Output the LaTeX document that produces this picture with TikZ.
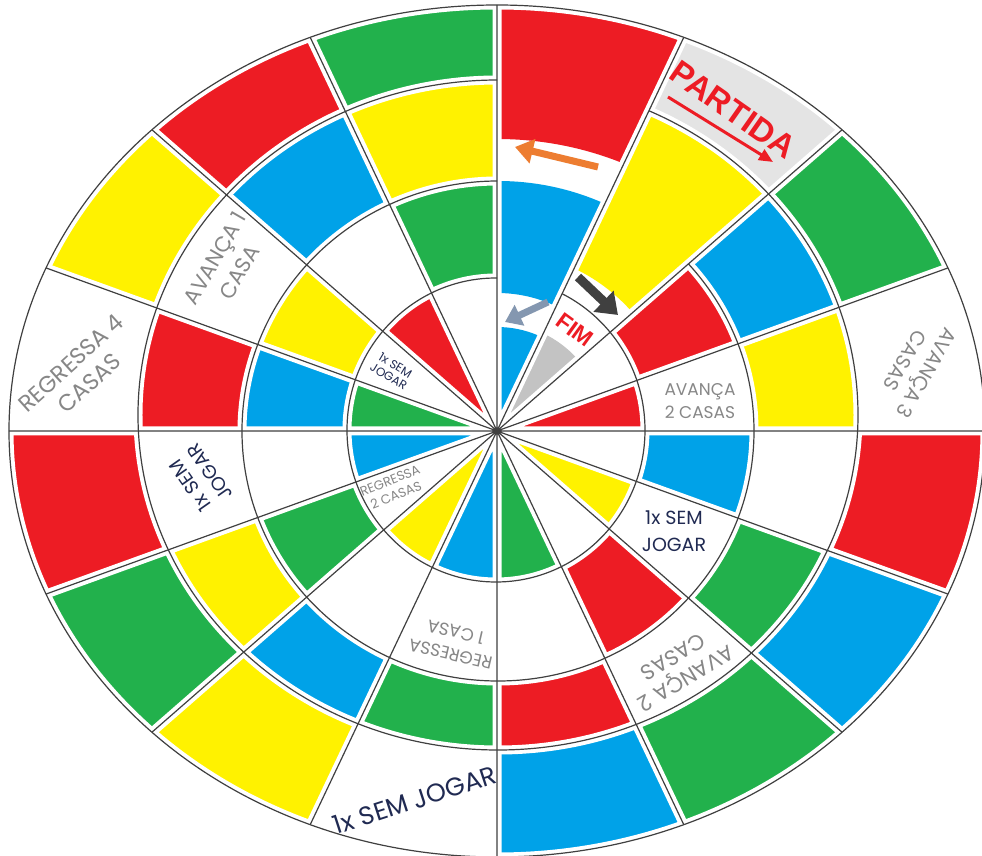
\documentclass[tikz,border=0pt]{standalone}
\usepackage{fontspec}
\usepackage{tikz}
\usetikzlibrary{arrows.meta}
\newfontfamily\boardfont{Poppins}
\newfontfamily\titlefont{Liberation Sans}
\definecolor{boardred}{RGB}{237,28,36}
\definecolor{boardyellow}{RGB}{255,242,0}
\definecolor{boardblue}{RGB}{0,162,232}
\definecolor{boardgreen}{RGB}{34,177,76}
\definecolor{boardgray}{RGB}{195,195,195}
\definecolor{labelgray}{RGB}{135,135,135}
\definecolor{labelnavy}{RGB}{32,42,82}
\definecolor{arroworange}{RGB}{237,125,49}
\definecolor{arrowdark}{RGB}{64,64,64}
\definecolor{arrowslate}{RGB}{132,151,176}
\newcommand{\fsz}[2]{\fontsize{#1}{#2}\selectfont}
% ring borders
\newcommand{\ellO}{(0,0) ellipse [x radius=488pt, y radius=426pt]}
\newcommand{\ellB}{(1,16) ellipse [x radius=360pt, y radius=335pt]}
\newcommand{\ellC}{(1,0) ellipse [x radius=256pt, y radius=250pt]}
\newcommand{\ellD}{(-1,1) ellipse [x radius=149pt, y radius=152pt]}
\newcommand{\boardcell}[4]{%
  \begin{scope}
    \clip (0,0) -- (#2:976 and 852) -- (#3:976 and 852) -- cycle;
    \fill[#1, even odd rule] #4;
  \end{scope}}
\newcommand{\boardlines}[1]{%
  \draw[#1] (0:488 and 426) -- (180:488 and 426)
            (22.5:488 and 426) -- (202.5:488 and 426)
            (45:488 and 426) -- (225:488 and 426)
            (67.5:488 and 426) -- (247.5:488 and 426)
            (90:488 and 426) -- (270:488 and 426)
            (112.5:488 and 426) -- (292.5:488 and 426)
            (135:488 and 426) -- (315:488 and 426)
            (157.5:488 and 426) -- (337.5:488 and 426);
  \draw[#1] \ellO;
  \begin{scope}
    \clip (0,0) -- (67.5:976 and 852) -- (1000,1000) -- (1000,-1000)
          -- (-1000,-1000) -- (-1000,1000) -- (0,1000) -- cycle;
    \draw[#1] \ellB \ellD;
  \end{scope}
  \begin{scope}
    \clip (0,0) -- (45:976 and 852) -- (1000,1000) -- (1000,-1000)
          -- (-1000,-1000) -- (-1000,1000) -- (0,1000) -- cycle;
    \draw[#1] \ellC;
  \end{scope}}
\tikzset{
  boardlabel/.style={align=center, inner sep=0pt, text=labelgray, font=\boardfont},
  navylabel/.style={boardlabel, text=labelnavy},
  redlabel/.style={inner sep=0pt, text=boardred, font=\titlefont\bfseries},
  gapline/.style={draw=white, line width=9pt},
  boardline/.style={draw=black!75, line width=1.2pt},
  blockarrow/.style={-{Triangle[width=24pt,length=18pt]}, line width=7pt},
}
\begin{document}
\begin{tikzpicture}[x=1pt, y=1pt]
  \useasboundingbox[fill=white] (-497,-425) rectangle (485,431);
  % outer ring
  \boardcell{boardgreen}{22.5}{45}{\ellO \ellB}
  \boardcell{boardgray!45}{45}{67.5}{\ellO \ellB}
  \boardcell{boardred}{67.5}{90}{\ellO (0,0) ellipse [x radius=315pt, y radius=292pt]}
  \boardcell{boardgreen}{90}{112.5}{\ellO \ellB}
  \boardcell{boardred}{112.5}{135}{\ellO \ellB}
  \boardcell{boardyellow}{135}{157.5}{\ellO \ellB}
  \boardcell{boardred}{180}{202.5}{\ellO \ellB}
  \boardcell{boardgreen}{202.5}{225}{\ellO \ellB}
  \boardcell{boardyellow}{225}{247.5}{\ellO \ellB}
  \boardcell{boardblue}{270}{292.5}{\ellO \ellB}
  \boardcell{boardgreen}{292.5}{315}{\ellO \ellB}
  \boardcell{boardblue}{315}{337.5}{\ellO \ellB}
  \boardcell{boardred}{337.5}{360}{\ellO \ellB}
  % second ring
  \boardcell{boardyellow}{0}{22.5}{\ellB \ellC}
  \boardcell{boardblue}{22.5}{45}{\ellB \ellC}
  \boardcell{boardyellow}{45}{67.5}{\ellB (0,0) circle [radius=180pt]}
  \boardcell{boardyellow}{90}{112.5}{\ellB \ellC}
  \boardcell{boardblue}{112.5}{135}{\ellB \ellC}
  \boardcell{boardred}{157.5}{180}{\ellB \ellC}
  \boardcell{boardyellow}{202.5}{225}{\ellB \ellC}
  \boardcell{boardblue}{225}{247.5}{\ellB \ellC}
  \boardcell{boardgreen}{247.5}{270}{\ellB \ellC}
  \boardcell{boardred}{270}{292.5}{\ellB \ellC}
  \boardcell{boardgreen}{315}{337.5}{\ellB \ellC}
  % third ring
  \boardcell{boardred}{22.5}{45}{\ellC \ellD}
  \boardcell{boardblue}{67.5}{90}{\ellC (0,0) circle [radius=138pt]}
  \boardcell{boardgreen}{90}{112.5}{\ellC \ellD}
  \boardcell{boardyellow}{135}{157.5}{\ellC \ellD}
  \boardcell{boardblue}{157.5}{180}{\ellC \ellD}
  \boardcell{boardgreen}{202.5}{225}{\ellC \ellD}
  \boardcell{boardred}{292.5}{315}{\ellC \ellD}
  \boardcell{boardblue}{337.5}{360}{\ellC \ellD}
  % centre
  \boardcell{boardred}{0}{22.5}{\ellD}
  \boardcell{boardgray}{45}{67.5}{(0,0) circle [radius=108pt]}
  \boardcell{boardblue}{67.5}{90}{(0,0) circle [radius=104pt]}
  \boardcell{boardred}{112.5}{135}{\ellD}
  \boardcell{boardgreen}{157.5}{180}{\ellD}
  \boardcell{boardblue}{180}{202.5}{\ellD}
  \boardcell{boardyellow}{225}{247.5}{\ellD}
  \boardcell{boardblue}{247.5}{270}{\ellD}
  \boardcell{boardgreen}{270}{292.5}{\ellD}
  \boardcell{boardyellow}{315}{337.5}{\ellD}
  \boardlines{gapline}
  \boardlines{boardline}

  \node[boardlabel, rotate=-120, font=\boardfont\fsz{20}{25}] (avanca3) at (419,64) {AVANÇA 3\\CASAS};
  \node[boardlabel, rotate=42, font=\boardfont\fsz{23}{27}] (regressa4) at (-417,58) {REGRESSA 4\\CASAS};
  \node[boardlabel, rotate=60, font=\boardfont\fsz{21.5}{28}] (avanca1) at (-270,166) {AVANÇA 1\\CASA};
  \node[navylabel, rotate=-31, font=\boardfont\fsz{12}{13}] (semjogarA) at (-105,60) {1x SEM\\JOGAR};
  \node[navylabel, rotate=125, font=\boardfont\fsz{19}{24}] (semjogarB) at (-297,-48) {1x SEM\\JOGAR};
  \node[boardlabel, rotate=22, font=\boardfont\fsz{13}{16}] (regressa2) at (-104,-57) {REGRESSA\\2 CASAS};
  \node[boardlabel, rotate=167, font=\boardfont\fsz{17.5}{23}] (regressa1) at (-44,-212) {REGRESSA\\1 CASA};
  \node[navylabel, rotate=18, font=\boardfont\fsz{25.5}{28}] (semjogarC) at (-82,-369) {1x SEM JOGAR};
  \node[boardlabel, rotate=-149, font=\boardfont\fsz{21.5}{25}] (avanca2b) at (183,-237) {AVANÇA 2\\CASAS};
  \node[navylabel, font=\boardfont\fsz{19}{27}] (semjogarD) at (177,-100) {1x SEM\\JOGAR};
  \node[boardlabel, font=\boardfont\fsz{17}{23}] (avanca2a) at (203,30) {AVANÇA\\2 CASAS};
  \node[redlabel, rotate=-35, font=\titlefont\bfseries\fsz{33}{33}] (partida) at (236,321) {PARTIDA};
  \node[redlabel, rotate=-36, font=\titlefont\bfseries\fsz{23}{23}] (fim) at (78,101) {FIM};

  \coordinate (starttail) at (171,334);
  \coordinate (starthead) at (276,269);
  \coordinate (orangetail) at (101,264);
  \coordinate (orangehead) at (18,284);
  \coordinate (darktail) at (81,154);
  \coordinate (darkhead) at (121,116);
  \coordinate (slatetail) at (51,129);
  \coordinate (slatehead) at (8,109);
  \draw[-{Triangle[width=12pt,length=14pt]}, line width=3pt, boardred] (starttail) -- (starthead);
  \draw[blockarrow, arroworange] (orangetail) -- (orangehead);
  \draw[blockarrow, arrowdark, line width=9pt, -{Triangle[width=28pt,length=20pt]}] (darktail) -- (darkhead);
  \draw[blockarrow, arrowslate, -{Triangle[width=22pt,length=16pt]}] (slatetail) -- (slatehead);
\end{tikzpicture}
\end{document}
